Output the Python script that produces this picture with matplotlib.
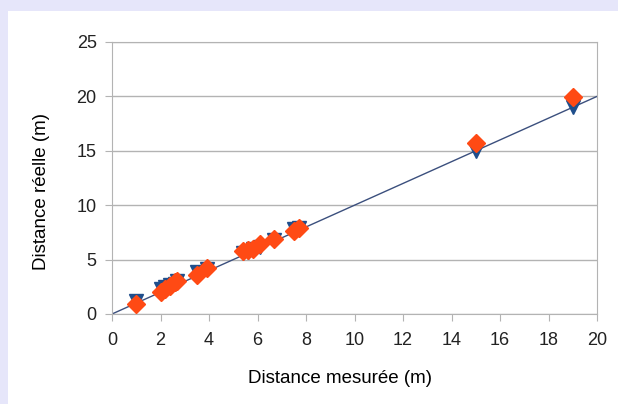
import numpy as np
import matplotlib.pyplot as plt
from matplotlib.patches import Rectangle


# Data
# ------------------------
measured = [1.0, 2.0, 2.2, 2.4, 2.6, 2.7, 3.5, 3.9, 5.4, 5.6, 5.8, 6.1, 6.7, 7.5, 7.7, 15.0, 19.0]
real_a = [1.2, 2.3, 2.5, 2.7, 2.8, 3.0, 3.9, 4.1, 5.6, 5.7, 6.0, 6.2, 6.8, 7.8, 7.9, 15.0, 19.0]
real_b = [0.9, 2.0, 2.3, 2.6, 2.9, 3.0, 3.6, 4.2, 5.8, 5.9, 6.0, 6.4, 6.9, 7.6, 7.9, 15.7, 19.9]
ref_line = [0, 20]

xticks = np.arange(0, 21, 2)
yticks = np.arange(0, 26, 5)


# Figure setup
# ------------
plt.rcParams['font.family'] = ['Liberation Sans', 'DejaVu Sans']

fig = plt.figure(figsize=(6.18, 4.04), dpi=100)
fig.patch.set_facecolor('#e6e6fa')
fig.patches.append(Rectangle((8 / 618, 0), 1, (404 - 11) / 404,
                             transform=fig.transFigure, facecolor='white',
                             edgecolor='none', zorder=-1))

ax = fig.add_axes([112 / 618, 90 / 404, 485 / 618, 272 / 404])
ax.set_zorder(1)
ax.set_xlim(0, 20)
ax.set_ylim(0, 25)
ax.set_xticks(xticks)
ax.set_yticks(yticks)
ax.yaxis.grid(True, color='#b3b3b3', linewidth=1)
ax.set_axisbelow(True)
for s in ax.spines.values():
    s.set_color('#b3b3b3')
ax.tick_params(colors='#b3b3b3', labelcolor='#222222', labelsize=13, length=5)
ax.tick_params(axis='x', pad=8)
ax.tick_params(axis='y', pad=6)

ax.set_xlabel('Distance mesurée (m)', fontsize=13.5)
ax.set_ylabel('Distance réelle (m)', fontsize=13.5)
# labels sit a little off-centre in the original
ax.xaxis.set_label_coords(0.47, -0.205)
ax.yaxis.set_label_coords(-0.128, 0.45)


# Plot data
# ---------
ax.plot(ref_line, ref_line, color='#3b4f7d', linewidth=1, zorder=2)
ax.plot(measured, real_a, linestyle='none', marker='v', markersize=10.5,
        color='#1f4e8c', zorder=3)
ax.plot(measured, real_b, linestyle='none', marker='D', markersize=9,
        color='#ff4a14', zorder=4)


# Render
# ------
fig.savefig('out.png', dpi=100)
